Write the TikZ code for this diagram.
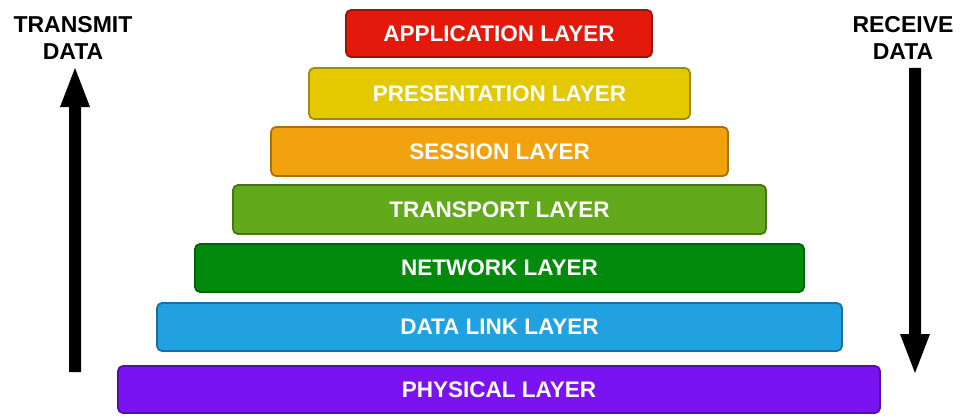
\documentclass[tikz,border=0pt]{standalone}
\usepackage{fontspec}
\setmainfont{Liberation Sans}
\begin{document}
\begin{tikzpicture}[x=1pt,y=-1pt,
 layer/.style={draw=#1!70!black,fill=#1,line width=1.8pt,rounded corners=5pt,text=white,font=\bfseries\fontsize{22.5}{24}\selectfont},
 lbl/.style={font=\bfseries\fontsize{23}{27}\selectfont,align=center,text=black}]
\useasboundingbox (0,0) rectangle (980,420);
\definecolor{cA}{HTML}{E31A0B}\definecolor{cP}{HTML}{E4C800}\definecolor{cS}{HTML}{F1A20E}
\definecolor{cT}{HTML}{62AA1C}\definecolor{cN}{HTML}{018A0C}\definecolor{cD}{HTML}{22A1E0}
\definecolor{cPh}{HTML}{7A12F2}
\def\lay#1#2#3#4#5#6{\draw[layer=#5] (#1,#2) rectangle (#3,#4) node[midway] (#6) {\strut};}
\lay{346}{10}{652}{57}{cA}{app}
\lay{309}{68}{690}{119}{cP}{pre}
\lay{271}{127}{728}{176}{cS}{ses}
\lay{233}{185}{766}{234}{cT}{tra}
\lay{195}{244}{804}{292}{cN}{net}
\lay{157}{303}{842}{351}{cD}{dat}
\lay{118}{366}{880}{413}{cPh}{phy}
\node[layer=cA,draw=none,fill=none] at (app) {APPLICATION LAYER};
\node[layer=cP,draw=none,fill=none] at (pre) {PRESENTATION LAYER};
\node[layer=cS,draw=none,fill=none] at (ses) {SESSION LAYER};
\node[layer=cT,draw=none,fill=none] at (tra) {TRANSPORT LAYER};
\node[layer=cN,draw=none,fill=none] at (net) {NETWORK LAYER};
\node[layer=cD,draw=none,fill=none] at (dat) {DATA LINK LAYER};
\node[layer=cPh,draw=none,fill=none] at (phy) {PHYSICAL LAYER};
\node[lbl] (tx) at (73,38) {TRANSMIT\\DATA};
\node[lbl] (rx) at (903,38) {RECEIVE\\DATA};
\fill (69,372) -- (81,372) -- (81,107) -- (90,107) -- (75,68) -- (60,107) -- (69,107) -- cycle;
\fill (909,68) -- (921,68) -- (921,334) -- (930,334) -- (915,373) -- (900,334) -- (909,334) -- cycle;
\end{tikzpicture}
\end{document}
